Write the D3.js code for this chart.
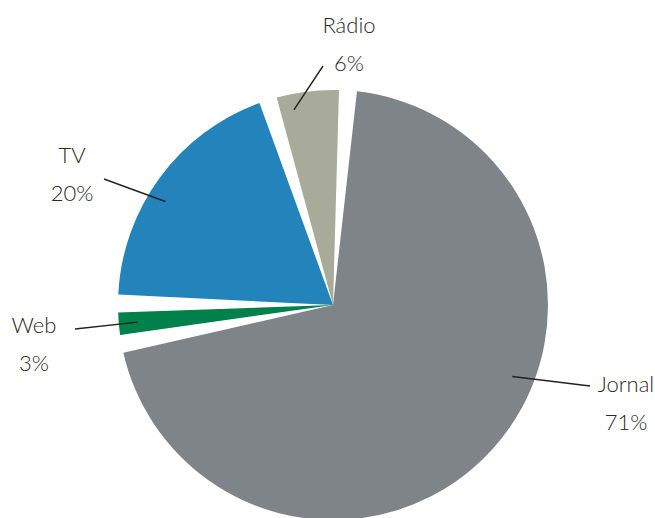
<!DOCTYPE html>
<html>
<head>
<meta charset="utf-8">
<script src="https://cdn.jsdelivr.net/npm/d3@7"></script>
<style>
  html, body { margin: 0; padding: 0; background: #fff; }
  svg { display: block; }
  text { font-family: Lato, "Open Sans", "DejaVu Sans", sans-serif; font-weight: 300; fill: #2a2a2a; }
</style>
</head>
<body>
<svg id="chart" width="655" height="518"></svg>
<script>
// ---- data ----
const categories = ["Jornal", "Web", "TV", "Rádio"];
const values = [71, 3, 20, 6];          // percentages
const colors = ["#7f8488", "#00804a", "#2383bb", "#a9ab9a"];

// ---- layout (not data) ----
const W = 655, H = 518;
const cx = 333, cy = 305, R = 215;
const startDeg = 4;            // Jornal begins just clockwise of 12 o'clock
const padDeg = 4.8;
// label layout: fraction along slice for leader start, leader end, text anchor
const labelLayout = [
  { frac: 0.42, r: 193, end: [590, 386], tx: 626, ty: 392 },
  { frac: 0.50, r: 196, end: [75, 329],  tx: 34,  ty: 333 },
  { frac: 0.43, r: 197, end: [104, 179], tx: 72,  ty: 163 },
  { frac: 0.23, r: 199, end: [323, 66],  tx: 349, ty: 33 }
];

const svg = d3.select("#chart");
const g = svg.append("g").attr("transform", `translate(${cx},${cy})`);

const toRad = d => d * Math.PI / 180;
const pie = d3.pie().sort(null).value(d => d.v)
  .startAngle(toRad(startDeg)).endAngle(toRad(startDeg + 360));
const data = categories.map((c, i) => ({ c, v: values[i], col: colors[i], lay: labelLayout[i] }));
const arcs = pie(data);

const arc = d3.arc().innerRadius(0).outerRadius(R).padAngle(toRad(padDeg));

g.selectAll("path.slice").data(arcs).enter().append("path")
  .attr("class", "slice")
  .attr("d", arc)
  .attr("fill", d => d.data.col);

// leader lines + labels
const pad = toRad(padDeg) / 2;
arcs.forEach(a => {
  const L = a.data.lay;
  const s = a.startAngle + pad, e = a.endAngle - pad;
  const ang = s + L.frac * (e - s);
  const x1 = cx + L.r * Math.sin(ang), y1 = cy - L.r * Math.cos(ang);
  svg.append("line")
    .attr("x1", x1).attr("y1", y1)
    .attr("x2", L.end[0]).attr("y2", L.end[1])
    .attr("stroke", "#222").attr("stroke-width", 1.4);
  svg.append("text")
    .attr("x", L.tx).attr("y", L.ty)
    .attr("text-anchor", "middle")
    .attr("font-size", 22)
    .text(a.data.c);
  svg.append("text")
    .attr("x", L.tx).attr("y", L.ty + 38)
    .attr("text-anchor", "middle")
    .attr("font-size", 22)
    .text(a.data.v + "%");
});
</script>
</body>
</html>
